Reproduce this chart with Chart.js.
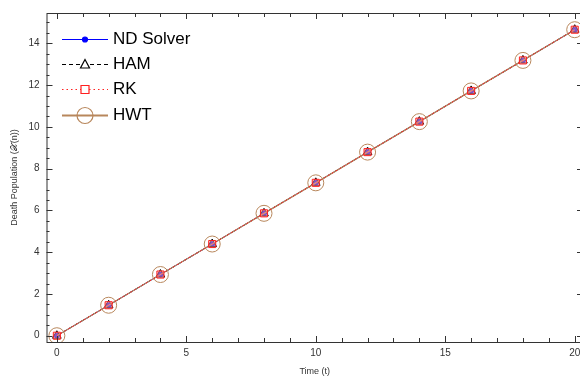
<!DOCTYPE html>
<html>
<head>
<meta charset="utf-8">
<script src="https://cdn.jsdelivr.net/npm/chart.js@4"></script>
<style>
  html, body { margin: 0; padding: 0; background: #fff; overflow: hidden; }
  #wrap { width: 592px; height: 377px; }
</style>
</head>
<body>
<div id="wrap"><canvas id="myChart" width="592" height="377"></canvas></div>
<script>
// time samples and death population from each method
const times = [0, 2, 4, 6, 8, 10, 12, 14, 16, 18, 20];
const ndSolver = [0, 1.46, 2.93, 4.39, 5.86, 7.32, 8.79, 10.25, 11.72, 13.18, 14.65];
const ham = [0, 1.46, 2.93, 4.39, 5.86, 7.32, 8.79, 10.25, 11.72, 13.18, 14.65];
const rk = [0, 1.46, 2.93, 4.39, 5.86, 7.32, 8.79, 10.25, 11.72, 13.18, 14.65];
const hwt = [0, 1.46, 2.93, 4.39, 5.86, 7.32, 8.79, 10.25, 11.72, 13.18, 14.65];

const xTicks = [0, 5, 10, 15, 20];
const yTicks = [0, 2, 4, 6, 8, 10, 12, 14];

const FONT = 'Liberation Sans, Arial, sans-serif';
const brown = '#b8875c';

const pts = (ys) => times.map((t, i) => ({ x: t, y: ys[i] }));

// series styles, also used by the legend drawn below; z = draw order (0 on top)
const series = [
  { label: 'ND Solver', data: ndSolver, color: '#0000ff', dash: [], style: 'circle', r: 2.5, fill: '#0000ff', w: 1, z: 3 },
  { label: 'HAM', data: ham, color: '#000000', dash: [4, 3], style: 'triangle', r: 5, fill: 'rgba(255,255,255,0)', w: 1, z: 2 },
  { label: 'RK', data: rk, color: '#ff2020', dash: [1.5, 3], style: 'rect', r: 5, fill: 'rgba(255,160,160,0.5)', w: 1, z: 0 },
  { label: 'HWT', data: hwt, color: brown, dash: [], style: 'circle', r: 8, fill: 'rgba(255,255,255,0)', w: 1.3, z: 1 }
];

// box frame with inward ticks on all four sides
const frame = {
  id: 'frame',
  afterDraw(chart) {
    const { ctx, chartArea: a, scales } = chart;
    ctx.save();
    ctx.strokeStyle = '#333';
    ctx.lineWidth = 1;
    ctx.strokeRect(a.left + 0.5, a.top + 0.5, a.right - a.left, a.bottom - a.top);
    ctx.beginPath();
    for (let v = 0; v <= 20; v += 1) {
      const x = Math.round(scales.x.getPixelForValue(v)) + 0.5;
      const len = v % 5 === 0 ? 6 : 4;
      ctx.moveTo(x, a.bottom); ctx.lineTo(x, a.bottom - len);
      ctx.moveTo(x, a.top); ctx.lineTo(x, a.top + len);
    }
    for (let v = 0; v <= 15; v += 0.5) {
      const y = Math.round(scales.y.getPixelForValue(v)) + 0.5;
      const len = v % 2 === 0 ? 6 : 3;
      ctx.moveTo(a.left, y); ctx.lineTo(a.left + len, y);
      ctx.moveTo(a.right, y); ctx.lineTo(a.right - len, y);
    }
    ctx.stroke();
    ctx.restore();
  }
};

// legend with a line sample and marker in the middle
const sampleLegend = {
  id: 'sampleLegend',
  afterDraw(chart) {
    const ctx = chart.ctx;
    const x0 = 62, x1 = 108, rows = [39, 64, 89, 115];
    const cx = (x0 + x1) / 2;
    ctx.save();
    series.forEach((s, i) => {
      const y = rows[i] + 0.5;
      ctx.strokeStyle = s.color;
      ctx.lineWidth = s.label === 'HWT' ? 2 : 1.2;
      ctx.setLineDash(s.dash);
      ctx.beginPath();
      ctx.moveTo(x0, y); ctx.lineTo(x1, y);
      ctx.stroke();
      ctx.setLineDash([]);
      ctx.fillStyle = s.label === 'ND Solver' ? s.fill : '#fff';
      ctx.lineWidth = 1.2;
      ctx.beginPath();
      if (s.style === 'circle') {
        ctx.arc(cx, y, s.r, 0, Math.PI * 2);
      } else if (s.style === 'rect') {
        ctx.rect(cx - 4, y - 4, 8, 8);
      } else {
        ctx.moveTo(cx, y - 5); ctx.lineTo(cx + 4.5, y + 3.5); ctx.lineTo(cx - 4.5, y + 3.5); ctx.closePath();
      }
      if (s.label !== 'HWT') ctx.fill();
      ctx.stroke();
      ctx.fillStyle = '#000';
      ctx.font = '17px ' + FONT;
      ctx.textBaseline = 'middle';
      ctx.fillText(s.label, 113, y);
    });
    ctx.restore();
  }
};

const ctx = document.getElementById('myChart').getContext('2d');
const myChart = new Chart(ctx, {
  type: 'line',
  data: {
    datasets: series.map((s) => ({
      label: s.label,
      data: pts(s.data),
      borderColor: s.color,
      borderWidth: s.w,
      borderDash: s.dash,
      backgroundColor: s.fill,
      pointStyle: s.style,
      pointRadius: s.r,
      pointBorderColor: s.color,
      pointBackgroundColor: s.fill,
      pointBorderWidth: 1,
      order: s.z
    }))
  },
  options: {
    responsive: false,
    animation: false,
    layout: { padding: { top: 10, right: 0, left: 0, bottom: 0 } },
    plugins: { legend: { display: false }, tooltip: { enabled: false } },
    scales: {
      x: {
        type: 'linear',
        min: -0.4,
        max: 20.32,
        afterFit: (s) => { s.height = 35; },
        afterBuildTicks: (s) => { s.ticks = xTicks.map(v => ({ value: v })); },
        grid: { display: false, drawTicks: false },
        border: { display: false },
        ticks: { padding: 5, color: '#333', font: { family: FONT, size: 10 } },
        title: { display: true, text: 'Time (t)', color: '#333', font: { family: FONT, size: 9 }, padding: { top: 4, bottom: 0 } }
      },
      y: {
        min: -0.3,
        max: 15.45,
        afterFit: (s) => { s.width = 46.5; },
        afterBuildTicks: (s) => { s.ticks = yTicks.map(v => ({ value: v })); },
        grid: { display: false, drawTicks: false },
        border: { display: false },
        ticks: { padding: 7, color: '#333', font: { family: FONT, size: 10 } },
        title: { display: true, text: 'Death Population (𝒳(n))', color: '#333', font: { family: FONT, size: 9 }, padding: { top: 9, bottom: 0 } }
      }
    }
  },
  plugins: [frame, sampleLegend]
});
</script>
</body>
</html>
